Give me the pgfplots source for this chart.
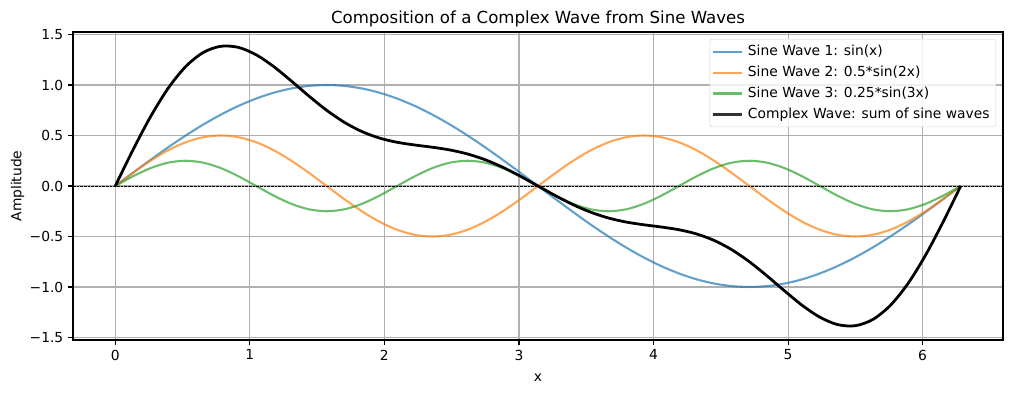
\documentclass[border=0pt]{standalone}
\usepackage{fontspec}
\setmainfont{DejaVu Sans}
\usepackage{pgfplots}
\usepackage{pgfplotstable}
\pgfplotsset{compat=1.18}
\definecolor{c1}{HTML}{1F77B4}
\definecolor{c2}{HTML}{FF7F0E}
\definecolor{c3}{HTML}{2CA02C}
\definecolor{gridc}{HTML}{B0B0B0}
\definecolor{legc}{HTML}{CCCCCC}
\pgfplotstableread{
x a b c d
0 0 0 0 0
0.1309 0.1305 0.1294 0.0957 0.3556
0.2618 0.2588 0.25 0.1768 0.6856
0.3927 0.3827 0.3536 0.2310 0.9673
0.5236 0.5 0.4330 0.25 1.1830
0.6545 0.6088 0.4830 0.2310 1.3228
0.7854 0.7071 0.5 0.1768 1.3839
0.9163 0.7934 0.4830 0.0957 1.3721
1.0472 0.8660 0.4330 0 1.2990
1.1781 0.9239 0.3536 -0.0957 1.1818
1.3090 0.9659 0.25 -0.1768 1.0391
1.4399 0.9914 0.1294 -0.2310 0.8898
1.5708 1 0 -0.25 0.75
1.7017 0.9914 -0.1294 -0.2310 0.6310
1.8326 0.9659 -0.25 -0.1768 0.5391
1.9635 0.9239 -0.3536 -0.0957 0.4746
2.0944 0.8660 -0.4330 0 0.4330
2.2253 0.7934 -0.4830 0.0957 0.4061
2.3562 0.7071 -0.5 0.1768 0.3839
2.4871 0.6088 -0.4830 0.2310 0.3568
2.6180 0.5 -0.4330 0.25 0.3170
2.7489 0.3827 -0.3536 0.2310 0.2601
2.8798 0.2588 -0.25 0.1768 0.1856
3.0107 0.1305 -0.1294 0.0957 0.0968
3.1416 0 0 0 0
3.2725 -0.1305 0.1294 -0.0957 -0.0968
3.4034 -0.2588 0.25 -0.1768 -0.1856
3.5343 -0.3827 0.3536 -0.2310 -0.2601
3.6652 -0.5 0.4330 -0.25 -0.3170
3.7961 -0.6088 0.4830 -0.2310 -0.3568
3.9270 -0.7071 0.5 -0.1768 -0.3839
4.0579 -0.7934 0.4830 -0.0957 -0.4061
4.1888 -0.8660 0.4330 0 -0.4330
4.3197 -0.9239 0.3536 0.0957 -0.4746
4.4506 -0.9659 0.25 0.1768 -0.5391
4.5815 -0.9914 0.1294 0.2310 -0.6310
4.7124 -1 0 0.25 -0.75
4.8433 -0.9914 -0.1294 0.2310 -0.8898
4.9742 -0.9659 -0.25 0.1768 -1.0391
5.1051 -0.9239 -0.3536 0.0957 -1.1818
5.2360 -0.8660 -0.4330 0 -1.2990
5.3669 -0.7934 -0.4830 -0.0957 -1.3721
5.4978 -0.7071 -0.5 -0.1768 -1.3839
5.6287 -0.6088 -0.4830 -0.2310 -1.3228
5.7596 -0.5 -0.4330 -0.25 -1.1830
5.8905 -0.3827 -0.3536 -0.2310 -0.9673
6.0214 -0.2588 -0.25 -0.1768 -0.6856
6.1523 -0.1305 -0.1294 -0.0957 -0.3556
6.2832 0 0 0 0
}\data
\begin{document}
\begin{tikzpicture}
\begin{axis}[
  scale only axis,
  width=9.30in, height=3.08in,
  xmin=-0.31416, xmax=6.5973,
  ymin=-1.525, ymax=1.525,
  xtick={0,1,2,3,4,5,6},
  xticklabels={0,1,2,3,4,5,6},
  ytick={-1.5,-1,-0.5,0,0.5,1,1.5},
  yticklabels={−1.5,−1.0,−0.5,0.0,0.5,1.0,1.5},
  tick pos=left,
  tick align=outside,
  major tick length=3.5pt,
  tick style={black, line width=0.8pt},
  axis line style={line width=0.8pt},
  grid=major,
  grid style={color=gridc, line width=0.8pt},
  tick label style={font=\fontsize{10}{12}\selectfont},
  label style={font=\fontsize{10}{12}\selectfont},
  title={Composition of a Complex Wave from Sine Waves},
  title style={font=\fontsize{12}{14}\selectfont, yshift=-6pt},
  xlabel={x},
  xlabel style={yshift=-3pt},
  ylabel={Amplitude},
  ylabel style={yshift=-3pt},
  legend cell align=left,
  legend style={at={(1,1)}, anchor=north east, xshift=-5pt, yshift=-5pt,
    draw=legc, rounded corners=2pt, fill=white, fill opacity=0.8,
    draw opacity=0.8, text opacity=1, font=\fontsize{10}{12}\selectfont,
    row sep=2pt, inner xsep=1pt, inner ysep=2.5pt,
    nodes={inner xsep=3.5pt}},
  legend image code/.code={\draw[#1] plot coordinates {(0pt,0pt) (21pt,0pt)};},
]
\addplot[c1, draw opacity=0.7, line width=1.5pt, smooth] table[x=x,y=a] {\data};
\addlegendentry{Sine Wave 1: sin(x)}
\addplot[c2, draw opacity=0.7, line width=1.5pt, smooth] table[x=x,y=b] {\data};
\addlegendentry{Sine Wave 2: 0.5*sin(2x)}
\addplot[c3, draw opacity=0.7, line width=1.5pt, smooth] table[x=x,y=c] {\data};
\addlegendentry{Sine Wave 3: 0.25*sin(3x)}
\addplot[black, line width=2pt, smooth] table[x=x,y=d] {\data};
\addlegendentry{Complex Wave: sum of sine waves}
\addplot[black, line width=0.5pt, dash pattern=on 1.85pt off 0.8pt, forget plot] coordinates {(-0.31416,0) (6.5973,0)};
\end{axis}
\pgfresetboundingbox
\path[use as bounding box] (current axis.south west) ++(-0.73in,-0.53in) rectangle ++(10.12in,3.93in);
\end{tikzpicture}
\end{document}
